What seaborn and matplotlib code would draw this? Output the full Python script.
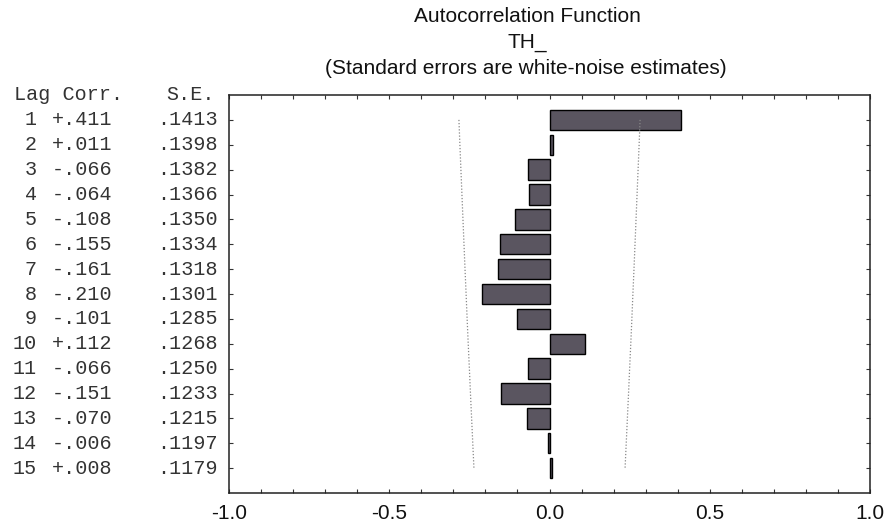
import matplotlib
matplotlib.use("Agg")
import matplotlib.pyplot as plt
import matplotlib.transforms as mtransforms
from matplotlib.ticker import MultipleLocator, FixedLocator
import seaborn as sns
import pandas as pd
import numpy as np

lags = [1, 2, 3, 4, 5, 6, 7, 8, 9, 10, 11, 12, 13, 14, 15]
corr = [0.411, 0.011, -0.066, -0.064, -0.108, -0.155, -0.161, -0.210,
        -0.101, 0.112, -0.066, -0.151, -0.070, -0.006, 0.008]
corr_labels = ["+.411", "+.011", "-.066", "-.064", "-.108", "-.155", "-.161",
               "-.210", "-.101", "+.112", "-.066", "-.151", "-.070", "-.006", "+.008"]
se = [0.1413, 0.1398, 0.1382, 0.1366, 0.1350, 0.1334, 0.1318, 0.1301,
      0.1285, 0.1268, 0.1250, 0.1233, 0.1215, 0.1197, 0.1179]
se_labels = [".1413", ".1398", ".1382", ".1366", ".1350", ".1334", ".1318",
             ".1301", ".1285", ".1268", ".1250", ".1233", ".1215", ".1197", ".1179"]
xticks = [-1.0, -0.5, 0.0, 0.5, 1.0]
xtick_labels = ["-1.0", "-0.5", "0.0", "0.5", "1.0"]

sns.set_theme(style="white")
plt.rcParams["font.family"] = ["Liberation Sans", "DejaVu Sans"]

W, H = 885, 529
fig = plt.figure(figsize=(W / 100, H / 100), dpi=100)
fig.patch.set_facecolor("white")
ax = fig.add_axes([229 / W, (H - 493) / H, (870 - 229) / W, (493 - 95) / H])

df = pd.DataFrame({"lag": lags, "corr": corr})
sns.barplot(data=df, x="corr", y="lag", orient="h", native_scale=True,
            color="#5a5560", saturation=1, edgecolor="black", linewidth=1.0,
            width=0.82, ax=ax)

upper = [2 * s for s in se]
lower = [-2 * s for s in se]
ax.plot(upper, lags, linestyle=(0, (1, 1.5)), color="#888888", lw=0.9)
ax.plot(lower, lags, linestyle=(0, (1, 1.5)), color="#888888", lw=0.9)

ax.set_xlim(-1, 1)
ax.set_ylim(16, 0)
ax.set_xlabel("")
ax.set_ylabel("")
ax.xaxis.set_major_locator(FixedLocator(xticks))
ax.set_xticklabels(xtick_labels, fontsize=15, color="#111111")
ax.xaxis.set_minor_locator(MultipleLocator(0.1))
ax.yaxis.set_major_locator(FixedLocator(lags))
ax.set_yticklabels([])
ax.tick_params(axis="x", which="both", direction="in", top=True, bottom=True,
               length=3, width=0.8, color="#333333", pad=8)
ax.tick_params(axis="y", which="both", direction="in", left=True, right=True,
               length=3, width=0.8, color="#333333")
for sp in ax.spines.values():
    sp.set_visible(True)
    sp.set_color("#222222")
    sp.set_linewidth(1.1)

trans = mtransforms.blended_transform_factory(fig.transFigure, ax.transData)
mono = "Liberation Mono"
fs = 14.5
tc = "#333333"
ax.text(14 / W, 0.0, "Lag Corr.", transform=trans, family=mono, fontsize=fs,
        color=tc, ha="left", va="center", clip_on=False)
ax.text(166 / W, 0.0, "S.E.", transform=trans, family=mono, fontsize=fs,
        color=tc, ha="left", va="center", clip_on=False)
for lg, cl, sl in zip(lags, corr_labels, se_labels):
    ax.text(37 / W, lg, str(lg), transform=trans, family=mono, fontsize=fs,
            color=tc, ha="right", va="center", clip_on=False)
    ax.text(52 / W, lg, cl, transform=trans, family=mono, fontsize=fs,
            color=tc, ha="left", va="center", clip_on=False)
    ax.text(157 / W, lg, sl, transform=trans, family=mono, fontsize=fs,
            color=tc, ha="left", va="center", clip_on=False)

fig.text(527 / W, 1 - 16 / H, "Autocorrelation Function", ha="center", va="center",
         fontsize=15, color="#111111")
fig.text(527 / W, 1 - 42 / H, "TH_", ha="center", va="center",
         fontsize=15, color="#111111")
fig.text(526 / W, 1 - 68 / H, "(Standard errors are white-noise estimates)",
         ha="center", va="center", fontsize=15, color="#111111")

fig.savefig("out.png", dpi=100, facecolor="white")
